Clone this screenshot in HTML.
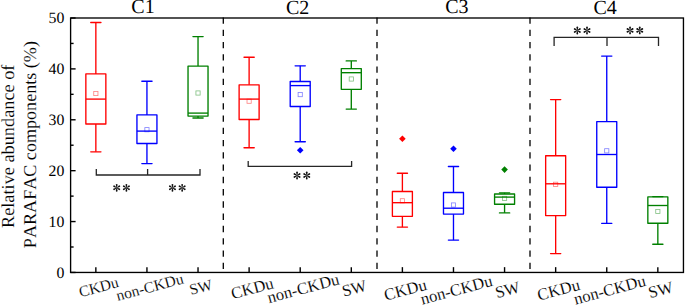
<!DOCTYPE html>
<html><head><meta charset="utf-8"><style>
html,body{margin:0;padding:0;background:#fff;}
svg{display:block;}
text{font-family:"Liberation Serif", serif;fill:#000;text-rendering:geometricPrecision;font-kerning:none;}
.r{stroke:#fff;stroke-width:0.12px;}
</style></head><body>
<svg width="685" height="305" viewBox="0 0 685 305">
<rect width="685" height="305" fill="#fff"/>
<line x1="95.85" y1="22.50" x2="95.85" y2="73.90" stroke="#ff0000" stroke-width="1.35"/>
<line x1="95.85" y1="124.00" x2="95.85" y2="151.80" stroke="#ff0000" stroke-width="1.35"/>
<line x1="90.75" y1="22.50" x2="100.95" y2="22.50" stroke="#ff0000" stroke-width="1.35" stroke-linecap="round"/>
<line x1="90.75" y1="151.80" x2="100.95" y2="151.80" stroke="#ff0000" stroke-width="1.35" stroke-linecap="round"/>
<rect x="85.85" y="73.90" width="20.00" height="50.10" fill="none" stroke="#ff0000" stroke-width="1.35" stroke-linejoin="round"/>
<line x1="85.85" y1="99.10" x2="105.85" y2="99.10" stroke="#ff0000" stroke-width="1.35"/>
<rect x="93.75" y="91.40" width="4.20" height="4.20" fill="none" stroke="#ff0000" stroke-width="0.8" opacity="0.5"/>
<line x1="146.94" y1="81.20" x2="146.94" y2="114.90" stroke="#0000ff" stroke-width="1.35"/>
<line x1="146.94" y1="143.50" x2="146.94" y2="163.60" stroke="#0000ff" stroke-width="1.35"/>
<line x1="141.84" y1="81.20" x2="152.04" y2="81.20" stroke="#0000ff" stroke-width="1.35" stroke-linecap="round"/>
<line x1="141.84" y1="163.60" x2="152.04" y2="163.60" stroke="#0000ff" stroke-width="1.35" stroke-linecap="round"/>
<rect x="136.94" y="114.90" width="20.00" height="28.60" fill="none" stroke="#0000ff" stroke-width="1.35" stroke-linejoin="round"/>
<line x1="136.94" y1="131.10" x2="156.94" y2="131.10" stroke="#0000ff" stroke-width="1.35"/>
<rect x="144.84" y="127.60" width="4.20" height="4.20" fill="none" stroke="#0000ff" stroke-width="0.8" opacity="0.5"/>
<line x1="198.03" y1="36.60" x2="198.03" y2="66.10" stroke="#008000" stroke-width="1.35"/>
<line x1="198.03" y1="116.10" x2="198.03" y2="118.00" stroke="#008000" stroke-width="1.35"/>
<line x1="192.93" y1="36.60" x2="203.13" y2="36.60" stroke="#008000" stroke-width="1.35" stroke-linecap="round"/>
<line x1="192.93" y1="118.00" x2="203.13" y2="118.00" stroke="#008000" stroke-width="1.35" stroke-linecap="round"/>
<rect x="188.03" y="66.10" width="20.00" height="50.00" fill="none" stroke="#008000" stroke-width="1.35" stroke-linejoin="round"/>
<line x1="188.03" y1="113.10" x2="208.03" y2="113.10" stroke="#008000" stroke-width="1.35"/>
<rect x="195.93" y="90.90" width="4.20" height="4.20" fill="none" stroke="#008000" stroke-width="0.8" opacity="0.5"/>
<line x1="249.12" y1="57.20" x2="249.12" y2="84.80" stroke="#ff0000" stroke-width="1.35"/>
<line x1="249.12" y1="119.50" x2="249.12" y2="147.70" stroke="#ff0000" stroke-width="1.35"/>
<line x1="244.02" y1="57.20" x2="254.22" y2="57.20" stroke="#ff0000" stroke-width="1.35" stroke-linecap="round"/>
<line x1="244.02" y1="147.70" x2="254.22" y2="147.70" stroke="#ff0000" stroke-width="1.35" stroke-linecap="round"/>
<rect x="239.12" y="84.80" width="20.00" height="34.70" fill="none" stroke="#ff0000" stroke-width="1.35" stroke-linejoin="round"/>
<line x1="239.12" y1="99.10" x2="259.12" y2="99.10" stroke="#ff0000" stroke-width="1.35"/>
<rect x="247.02" y="99.10" width="4.20" height="4.20" fill="none" stroke="#ff0000" stroke-width="0.8" opacity="0.5"/>
<line x1="300.21" y1="65.80" x2="300.21" y2="81.50" stroke="#0000ff" stroke-width="1.35"/>
<line x1="300.21" y1="106.50" x2="300.21" y2="141.70" stroke="#0000ff" stroke-width="1.35"/>
<line x1="295.11" y1="65.80" x2="305.31" y2="65.80" stroke="#0000ff" stroke-width="1.35" stroke-linecap="round"/>
<line x1="295.11" y1="141.70" x2="305.31" y2="141.70" stroke="#0000ff" stroke-width="1.35" stroke-linecap="round"/>
<rect x="290.21" y="81.50" width="20.00" height="25.00" fill="none" stroke="#0000ff" stroke-width="1.35" stroke-linejoin="round"/>
<line x1="290.21" y1="85.60" x2="310.21" y2="85.60" stroke="#0000ff" stroke-width="1.35"/>
<rect x="298.11" y="92.50" width="4.20" height="4.20" fill="none" stroke="#0000ff" stroke-width="0.8" opacity="0.5"/>
<path d="M300.21,146.90 L303.51,150.20 L300.21,153.50 L296.91,150.20 Z" fill="#0000ff"/>
<line x1="351.30" y1="60.90" x2="351.30" y2="68.60" stroke="#008000" stroke-width="1.35"/>
<line x1="351.30" y1="89.30" x2="351.30" y2="109.10" stroke="#008000" stroke-width="1.35"/>
<line x1="346.20" y1="60.90" x2="356.40" y2="60.90" stroke="#008000" stroke-width="1.35" stroke-linecap="round"/>
<line x1="346.20" y1="109.10" x2="356.40" y2="109.10" stroke="#008000" stroke-width="1.35" stroke-linecap="round"/>
<rect x="341.30" y="68.60" width="20.00" height="20.70" fill="none" stroke="#008000" stroke-width="1.35" stroke-linejoin="round"/>
<line x1="341.30" y1="72.70" x2="361.30" y2="72.70" stroke="#008000" stroke-width="1.35"/>
<rect x="349.20" y="76.90" width="4.20" height="4.20" fill="none" stroke="#008000" stroke-width="0.8" opacity="0.5"/>
<line x1="402.39" y1="173.20" x2="402.39" y2="191.50" stroke="#ff0000" stroke-width="1.35"/>
<line x1="402.39" y1="216.30" x2="402.39" y2="227.10" stroke="#ff0000" stroke-width="1.35"/>
<line x1="397.29" y1="173.20" x2="407.49" y2="173.20" stroke="#ff0000" stroke-width="1.35" stroke-linecap="round"/>
<line x1="397.29" y1="227.10" x2="407.49" y2="227.10" stroke="#ff0000" stroke-width="1.35" stroke-linecap="round"/>
<rect x="392.39" y="191.50" width="20.00" height="24.80" fill="none" stroke="#ff0000" stroke-width="1.35" stroke-linejoin="round"/>
<line x1="392.39" y1="202.70" x2="412.39" y2="202.70" stroke="#ff0000" stroke-width="1.35"/>
<rect x="400.29" y="198.70" width="4.20" height="4.20" fill="none" stroke="#ff0000" stroke-width="0.8" opacity="0.5"/>
<path d="M402.39,135.50 L405.69,138.80 L402.39,142.10 L399.09,138.80 Z" fill="#ff0000"/>
<line x1="453.48" y1="166.50" x2="453.48" y2="192.50" stroke="#0000ff" stroke-width="1.35"/>
<line x1="453.48" y1="214.10" x2="453.48" y2="240.10" stroke="#0000ff" stroke-width="1.35"/>
<line x1="448.38" y1="166.50" x2="458.58" y2="166.50" stroke="#0000ff" stroke-width="1.35" stroke-linecap="round"/>
<line x1="448.38" y1="240.10" x2="458.58" y2="240.10" stroke="#0000ff" stroke-width="1.35" stroke-linecap="round"/>
<rect x="443.48" y="192.50" width="20.00" height="21.60" fill="none" stroke="#0000ff" stroke-width="1.35" stroke-linejoin="round"/>
<line x1="443.48" y1="208.20" x2="463.48" y2="208.20" stroke="#0000ff" stroke-width="1.35"/>
<rect x="451.38" y="202.90" width="4.20" height="4.20" fill="none" stroke="#0000ff" stroke-width="0.8" opacity="0.5"/>
<path d="M453.48,145.50 L456.78,148.80 L453.48,152.10 L450.18,148.80 Z" fill="#0000ff"/>
<line x1="504.57" y1="192.80" x2="504.57" y2="194.00" stroke="#008000" stroke-width="1.35"/>
<line x1="504.57" y1="204.20" x2="504.57" y2="212.90" stroke="#008000" stroke-width="1.35"/>
<line x1="499.47" y1="192.80" x2="509.67" y2="192.80" stroke="#008000" stroke-width="1.35" stroke-linecap="round"/>
<line x1="499.47" y1="212.90" x2="509.67" y2="212.90" stroke="#008000" stroke-width="1.35" stroke-linecap="round"/>
<rect x="494.57" y="194.00" width="20.00" height="10.20" fill="none" stroke="#008000" stroke-width="1.35" stroke-linejoin="round"/>
<line x1="494.57" y1="197.10" x2="514.57" y2="197.10" stroke="#008000" stroke-width="1.35"/>
<rect x="502.47" y="196.30" width="4.20" height="4.20" fill="none" stroke="#008000" stroke-width="0.8" opacity="0.5"/>
<path d="M504.57,166.30 L507.87,169.60 L504.57,172.90 L501.27,169.60 Z" fill="#008000"/>
<line x1="555.66" y1="99.60" x2="555.66" y2="155.70" stroke="#ff0000" stroke-width="1.35"/>
<line x1="555.66" y1="215.60" x2="555.66" y2="253.60" stroke="#ff0000" stroke-width="1.35"/>
<line x1="550.56" y1="99.60" x2="560.76" y2="99.60" stroke="#ff0000" stroke-width="1.35" stroke-linecap="round"/>
<line x1="550.56" y1="253.60" x2="560.76" y2="253.60" stroke="#ff0000" stroke-width="1.35" stroke-linecap="round"/>
<rect x="545.66" y="155.70" width="20.00" height="59.90" fill="none" stroke="#ff0000" stroke-width="1.35" stroke-linejoin="round"/>
<line x1="545.66" y1="183.80" x2="565.66" y2="183.80" stroke="#ff0000" stroke-width="1.35"/>
<rect x="553.56" y="182.20" width="4.20" height="4.20" fill="none" stroke="#ff0000" stroke-width="0.8" opacity="0.5"/>
<line x1="606.75" y1="56.10" x2="606.75" y2="121.60" stroke="#0000ff" stroke-width="1.35"/>
<line x1="606.75" y1="187.30" x2="606.75" y2="223.30" stroke="#0000ff" stroke-width="1.35"/>
<line x1="601.65" y1="56.10" x2="611.85" y2="56.10" stroke="#0000ff" stroke-width="1.35" stroke-linecap="round"/>
<line x1="601.65" y1="223.30" x2="611.85" y2="223.30" stroke="#0000ff" stroke-width="1.35" stroke-linecap="round"/>
<rect x="596.75" y="121.60" width="20.00" height="65.70" fill="none" stroke="#0000ff" stroke-width="1.35" stroke-linejoin="round"/>
<line x1="596.75" y1="154.50" x2="616.75" y2="154.50" stroke="#0000ff" stroke-width="1.35"/>
<rect x="604.65" y="148.70" width="4.20" height="4.20" fill="none" stroke="#0000ff" stroke-width="0.8" opacity="0.5"/>
<line x1="657.84" y1="196.60" x2="657.84" y2="196.90" stroke="#008000" stroke-width="1.35"/>
<line x1="657.84" y1="223.30" x2="657.84" y2="244.20" stroke="#008000" stroke-width="1.35"/>
<line x1="652.74" y1="196.60" x2="662.94" y2="196.60" stroke="#008000" stroke-width="1.35" stroke-linecap="round"/>
<line x1="652.74" y1="244.20" x2="662.94" y2="244.20" stroke="#008000" stroke-width="1.35" stroke-linecap="round"/>
<rect x="647.84" y="196.90" width="20.00" height="26.40" fill="none" stroke="#008000" stroke-width="1.35" stroke-linejoin="round"/>
<line x1="647.84" y1="205.50" x2="667.84" y2="205.50" stroke="#008000" stroke-width="1.35"/>
<rect x="655.74" y="209.40" width="4.20" height="4.20" fill="none" stroke="#008000" stroke-width="0.8" opacity="0.5"/>
<path d="M96.30,169.10 L96.30,175.00 L200.00,175.00 L200.00,169.10 M147.60,175.00 L147.60,169.10" fill="none" stroke="#262626" stroke-width="1.3"/>
<path d="M248.2,161 L248.2,166.3 L351.6,166.3 L351.6,161" fill="none" stroke="#262626" stroke-width="1.3"/>
<path d="M554.10,46.00 L554.10,37.40 L658.50,37.40 L658.50,46.00 M607.00,37.40 L607.00,46.00" fill="none" stroke="#262626" stroke-width="1.3"/>
<rect x="70.60" y="18.00" width="612.85" height="254.45" fill="none" stroke="#000" stroke-width="1.35"/>
<line x1="70.60" y1="272.45" x2="75.60" y2="272.45" stroke="#000" stroke-width="1.4"/>
<line x1="70.60" y1="247.00" x2="73.60" y2="247.00" stroke="#000" stroke-width="1.4"/>
<line x1="70.60" y1="221.56" x2="75.60" y2="221.56" stroke="#000" stroke-width="1.4"/>
<line x1="70.60" y1="196.12" x2="73.60" y2="196.12" stroke="#000" stroke-width="1.4"/>
<line x1="70.60" y1="170.67" x2="75.60" y2="170.67" stroke="#000" stroke-width="1.4"/>
<line x1="70.60" y1="145.22" x2="73.60" y2="145.22" stroke="#000" stroke-width="1.4"/>
<line x1="70.60" y1="119.78" x2="75.60" y2="119.78" stroke="#000" stroke-width="1.4"/>
<line x1="70.60" y1="94.33" x2="73.60" y2="94.33" stroke="#000" stroke-width="1.4"/>
<line x1="70.60" y1="68.89" x2="75.60" y2="68.89" stroke="#000" stroke-width="1.4"/>
<line x1="70.60" y1="43.44" x2="73.60" y2="43.44" stroke="#000" stroke-width="1.4"/>
<line x1="70.60" y1="18.00" x2="75.60" y2="18.00" stroke="#000" stroke-width="1.4"/>
<line x1="95.85" y1="272.45" x2="95.85" y2="267.15" stroke="#000" stroke-width="1.4"/>
<line x1="146.94" y1="272.45" x2="146.94" y2="267.15" stroke="#000" stroke-width="1.4"/>
<line x1="198.03" y1="272.45" x2="198.03" y2="267.15" stroke="#000" stroke-width="1.4"/>
<line x1="249.12" y1="272.45" x2="249.12" y2="267.15" stroke="#000" stroke-width="1.4"/>
<line x1="300.21" y1="272.45" x2="300.21" y2="267.15" stroke="#000" stroke-width="1.4"/>
<line x1="351.30" y1="272.45" x2="351.30" y2="267.15" stroke="#000" stroke-width="1.4"/>
<line x1="402.39" y1="272.45" x2="402.39" y2="267.15" stroke="#000" stroke-width="1.4"/>
<line x1="453.48" y1="272.45" x2="453.48" y2="267.15" stroke="#000" stroke-width="1.4"/>
<line x1="504.57" y1="272.45" x2="504.57" y2="267.15" stroke="#000" stroke-width="1.4"/>
<line x1="555.66" y1="272.45" x2="555.66" y2="267.15" stroke="#000" stroke-width="1.4"/>
<line x1="606.75" y1="272.45" x2="606.75" y2="267.15" stroke="#000" stroke-width="1.4"/>
<line x1="657.84" y1="272.45" x2="657.84" y2="267.15" stroke="#000" stroke-width="1.4"/>
<line x1="223.30" y1="17.45" x2="223.30" y2="272.45" stroke="#000" stroke-width="1.3" stroke-dasharray="6.3,5.96"/>
<line x1="377.00" y1="17.45" x2="377.00" y2="272.45" stroke="#000" stroke-width="1.3" stroke-dasharray="6.3,5.96"/>
<line x1="530.00" y1="17.45" x2="530.00" y2="272.45" stroke="#000" stroke-width="1.3" stroke-dasharray="6.3,5.96"/>
<text x="64.40" y="277.55" font-size="15.8" text-anchor="end">0</text>
<text x="64.40" y="226.66" font-size="15.8" text-anchor="end">10</text>
<text x="64.40" y="175.77" font-size="15.8" text-anchor="end">20</text>
<text x="64.40" y="124.88" font-size="15.8" text-anchor="end">30</text>
<text x="64.40" y="73.99" font-size="15.8" text-anchor="end">40</text>
<text x="64.40" y="23.10" font-size="15.8" text-anchor="end">50</text>
<text x="143.00" y="13.10" font-size="20" text-anchor="middle">C1</text>
<text x="297.70" y="13.60" font-size="20" text-anchor="middle">C2</text>
<text x="456.90" y="13.10" font-size="20" text-anchor="middle">C3</text>
<text x="605.20" y="13.60" font-size="20" text-anchor="middle">C4</text>
<path d="M-0.20,0 L-0.90,-3.00 A0.90,0.90 0 0 1 0.90,-3.00 L0.20,0 Z" transform="translate(116.70,187.80) rotate(0)" fill="#111"/><path d="M-0.20,0 L-0.90,-3.00 A0.90,0.90 0 0 1 0.90,-3.00 L0.20,0 Z" transform="translate(116.70,187.80) rotate(60)" fill="#111"/><path d="M-0.20,0 L-0.90,-3.00 A0.90,0.90 0 0 1 0.90,-3.00 L0.20,0 Z" transform="translate(116.70,187.80) rotate(120)" fill="#111"/><path d="M-0.20,0 L-0.90,-3.00 A0.90,0.90 0 0 1 0.90,-3.00 L0.20,0 Z" transform="translate(116.70,187.80) rotate(180)" fill="#111"/><path d="M-0.20,0 L-0.90,-3.00 A0.90,0.90 0 0 1 0.90,-3.00 L0.20,0 Z" transform="translate(116.70,187.80) rotate(-60)" fill="#111"/><path d="M-0.20,0 L-0.90,-3.00 A0.90,0.90 0 0 1 0.90,-3.00 L0.20,0 Z" transform="translate(116.70,187.80) rotate(-120)" fill="#111"/><circle cx="116.70" cy="187.80" r="0.7" fill="#555"/>
<path d="M-0.20,0 L-0.90,-3.00 A0.90,0.90 0 0 1 0.90,-3.00 L0.20,0 Z" transform="translate(126.40,187.80) rotate(0)" fill="#111"/><path d="M-0.20,0 L-0.90,-3.00 A0.90,0.90 0 0 1 0.90,-3.00 L0.20,0 Z" transform="translate(126.40,187.80) rotate(60)" fill="#111"/><path d="M-0.20,0 L-0.90,-3.00 A0.90,0.90 0 0 1 0.90,-3.00 L0.20,0 Z" transform="translate(126.40,187.80) rotate(120)" fill="#111"/><path d="M-0.20,0 L-0.90,-3.00 A0.90,0.90 0 0 1 0.90,-3.00 L0.20,0 Z" transform="translate(126.40,187.80) rotate(180)" fill="#111"/><path d="M-0.20,0 L-0.90,-3.00 A0.90,0.90 0 0 1 0.90,-3.00 L0.20,0 Z" transform="translate(126.40,187.80) rotate(-60)" fill="#111"/><path d="M-0.20,0 L-0.90,-3.00 A0.90,0.90 0 0 1 0.90,-3.00 L0.20,0 Z" transform="translate(126.40,187.80) rotate(-120)" fill="#111"/><circle cx="126.40" cy="187.80" r="0.7" fill="#555"/>
<path d="M-0.20,0 L-0.90,-3.00 A0.90,0.90 0 0 1 0.90,-3.00 L0.20,0 Z" transform="translate(172.45,187.80) rotate(0)" fill="#111"/><path d="M-0.20,0 L-0.90,-3.00 A0.90,0.90 0 0 1 0.90,-3.00 L0.20,0 Z" transform="translate(172.45,187.80) rotate(60)" fill="#111"/><path d="M-0.20,0 L-0.90,-3.00 A0.90,0.90 0 0 1 0.90,-3.00 L0.20,0 Z" transform="translate(172.45,187.80) rotate(120)" fill="#111"/><path d="M-0.20,0 L-0.90,-3.00 A0.90,0.90 0 0 1 0.90,-3.00 L0.20,0 Z" transform="translate(172.45,187.80) rotate(180)" fill="#111"/><path d="M-0.20,0 L-0.90,-3.00 A0.90,0.90 0 0 1 0.90,-3.00 L0.20,0 Z" transform="translate(172.45,187.80) rotate(-60)" fill="#111"/><path d="M-0.20,0 L-0.90,-3.00 A0.90,0.90 0 0 1 0.90,-3.00 L0.20,0 Z" transform="translate(172.45,187.80) rotate(-120)" fill="#111"/><circle cx="172.45" cy="187.80" r="0.7" fill="#555"/>
<path d="M-0.20,0 L-0.90,-3.00 A0.90,0.90 0 0 1 0.90,-3.00 L0.20,0 Z" transform="translate(182.15,187.80) rotate(0)" fill="#111"/><path d="M-0.20,0 L-0.90,-3.00 A0.90,0.90 0 0 1 0.90,-3.00 L0.20,0 Z" transform="translate(182.15,187.80) rotate(60)" fill="#111"/><path d="M-0.20,0 L-0.90,-3.00 A0.90,0.90 0 0 1 0.90,-3.00 L0.20,0 Z" transform="translate(182.15,187.80) rotate(120)" fill="#111"/><path d="M-0.20,0 L-0.90,-3.00 A0.90,0.90 0 0 1 0.90,-3.00 L0.20,0 Z" transform="translate(182.15,187.80) rotate(180)" fill="#111"/><path d="M-0.20,0 L-0.90,-3.00 A0.90,0.90 0 0 1 0.90,-3.00 L0.20,0 Z" transform="translate(182.15,187.80) rotate(-60)" fill="#111"/><path d="M-0.20,0 L-0.90,-3.00 A0.90,0.90 0 0 1 0.90,-3.00 L0.20,0 Z" transform="translate(182.15,187.80) rotate(-120)" fill="#111"/><circle cx="182.15" cy="187.80" r="0.7" fill="#555"/>
<path d="M-0.20,0 L-0.90,-3.00 A0.90,0.90 0 0 1 0.90,-3.00 L0.20,0 Z" transform="translate(297.05,175.50) rotate(0)" fill="#111"/><path d="M-0.20,0 L-0.90,-3.00 A0.90,0.90 0 0 1 0.90,-3.00 L0.20,0 Z" transform="translate(297.05,175.50) rotate(60)" fill="#111"/><path d="M-0.20,0 L-0.90,-3.00 A0.90,0.90 0 0 1 0.90,-3.00 L0.20,0 Z" transform="translate(297.05,175.50) rotate(120)" fill="#111"/><path d="M-0.20,0 L-0.90,-3.00 A0.90,0.90 0 0 1 0.90,-3.00 L0.20,0 Z" transform="translate(297.05,175.50) rotate(180)" fill="#111"/><path d="M-0.20,0 L-0.90,-3.00 A0.90,0.90 0 0 1 0.90,-3.00 L0.20,0 Z" transform="translate(297.05,175.50) rotate(-60)" fill="#111"/><path d="M-0.20,0 L-0.90,-3.00 A0.90,0.90 0 0 1 0.90,-3.00 L0.20,0 Z" transform="translate(297.05,175.50) rotate(-120)" fill="#111"/><circle cx="297.05" cy="175.50" r="0.7" fill="#555"/>
<path d="M-0.20,0 L-0.90,-3.00 A0.90,0.90 0 0 1 0.90,-3.00 L0.20,0 Z" transform="translate(306.75,175.50) rotate(0)" fill="#111"/><path d="M-0.20,0 L-0.90,-3.00 A0.90,0.90 0 0 1 0.90,-3.00 L0.20,0 Z" transform="translate(306.75,175.50) rotate(60)" fill="#111"/><path d="M-0.20,0 L-0.90,-3.00 A0.90,0.90 0 0 1 0.90,-3.00 L0.20,0 Z" transform="translate(306.75,175.50) rotate(120)" fill="#111"/><path d="M-0.20,0 L-0.90,-3.00 A0.90,0.90 0 0 1 0.90,-3.00 L0.20,0 Z" transform="translate(306.75,175.50) rotate(180)" fill="#111"/><path d="M-0.20,0 L-0.90,-3.00 A0.90,0.90 0 0 1 0.90,-3.00 L0.20,0 Z" transform="translate(306.75,175.50) rotate(-60)" fill="#111"/><path d="M-0.20,0 L-0.90,-3.00 A0.90,0.90 0 0 1 0.90,-3.00 L0.20,0 Z" transform="translate(306.75,175.50) rotate(-120)" fill="#111"/><circle cx="306.75" cy="175.50" r="0.7" fill="#555"/>
<path d="M-0.20,0 L-0.90,-3.00 A0.90,0.90 0 0 1 0.90,-3.00 L0.20,0 Z" transform="translate(577.30,30.50) rotate(0)" fill="#111"/><path d="M-0.20,0 L-0.90,-3.00 A0.90,0.90 0 0 1 0.90,-3.00 L0.20,0 Z" transform="translate(577.30,30.50) rotate(60)" fill="#111"/><path d="M-0.20,0 L-0.90,-3.00 A0.90,0.90 0 0 1 0.90,-3.00 L0.20,0 Z" transform="translate(577.30,30.50) rotate(120)" fill="#111"/><path d="M-0.20,0 L-0.90,-3.00 A0.90,0.90 0 0 1 0.90,-3.00 L0.20,0 Z" transform="translate(577.30,30.50) rotate(180)" fill="#111"/><path d="M-0.20,0 L-0.90,-3.00 A0.90,0.90 0 0 1 0.90,-3.00 L0.20,0 Z" transform="translate(577.30,30.50) rotate(-60)" fill="#111"/><path d="M-0.20,0 L-0.90,-3.00 A0.90,0.90 0 0 1 0.90,-3.00 L0.20,0 Z" transform="translate(577.30,30.50) rotate(-120)" fill="#111"/><circle cx="577.30" cy="30.50" r="0.7" fill="#555"/>
<path d="M-0.20,0 L-0.90,-3.00 A0.90,0.90 0 0 1 0.90,-3.00 L0.20,0 Z" transform="translate(587.00,30.50) rotate(0)" fill="#111"/><path d="M-0.20,0 L-0.90,-3.00 A0.90,0.90 0 0 1 0.90,-3.00 L0.20,0 Z" transform="translate(587.00,30.50) rotate(60)" fill="#111"/><path d="M-0.20,0 L-0.90,-3.00 A0.90,0.90 0 0 1 0.90,-3.00 L0.20,0 Z" transform="translate(587.00,30.50) rotate(120)" fill="#111"/><path d="M-0.20,0 L-0.90,-3.00 A0.90,0.90 0 0 1 0.90,-3.00 L0.20,0 Z" transform="translate(587.00,30.50) rotate(180)" fill="#111"/><path d="M-0.20,0 L-0.90,-3.00 A0.90,0.90 0 0 1 0.90,-3.00 L0.20,0 Z" transform="translate(587.00,30.50) rotate(-60)" fill="#111"/><path d="M-0.20,0 L-0.90,-3.00 A0.90,0.90 0 0 1 0.90,-3.00 L0.20,0 Z" transform="translate(587.00,30.50) rotate(-120)" fill="#111"/><circle cx="587.00" cy="30.50" r="0.7" fill="#555"/>
<path d="M-0.20,0 L-0.90,-3.00 A0.90,0.90 0 0 1 0.90,-3.00 L0.20,0 Z" transform="translate(630.05,30.40) rotate(0)" fill="#111"/><path d="M-0.20,0 L-0.90,-3.00 A0.90,0.90 0 0 1 0.90,-3.00 L0.20,0 Z" transform="translate(630.05,30.40) rotate(60)" fill="#111"/><path d="M-0.20,0 L-0.90,-3.00 A0.90,0.90 0 0 1 0.90,-3.00 L0.20,0 Z" transform="translate(630.05,30.40) rotate(120)" fill="#111"/><path d="M-0.20,0 L-0.90,-3.00 A0.90,0.90 0 0 1 0.90,-3.00 L0.20,0 Z" transform="translate(630.05,30.40) rotate(180)" fill="#111"/><path d="M-0.20,0 L-0.90,-3.00 A0.90,0.90 0 0 1 0.90,-3.00 L0.20,0 Z" transform="translate(630.05,30.40) rotate(-60)" fill="#111"/><path d="M-0.20,0 L-0.90,-3.00 A0.90,0.90 0 0 1 0.90,-3.00 L0.20,0 Z" transform="translate(630.05,30.40) rotate(-120)" fill="#111"/><circle cx="630.05" cy="30.40" r="0.7" fill="#555"/>
<path d="M-0.20,0 L-0.90,-3.00 A0.90,0.90 0 0 1 0.90,-3.00 L0.20,0 Z" transform="translate(639.75,30.40) rotate(0)" fill="#111"/><path d="M-0.20,0 L-0.90,-3.00 A0.90,0.90 0 0 1 0.90,-3.00 L0.20,0 Z" transform="translate(639.75,30.40) rotate(60)" fill="#111"/><path d="M-0.20,0 L-0.90,-3.00 A0.90,0.90 0 0 1 0.90,-3.00 L0.20,0 Z" transform="translate(639.75,30.40) rotate(120)" fill="#111"/><path d="M-0.20,0 L-0.90,-3.00 A0.90,0.90 0 0 1 0.90,-3.00 L0.20,0 Z" transform="translate(639.75,30.40) rotate(180)" fill="#111"/><path d="M-0.20,0 L-0.90,-3.00 A0.90,0.90 0 0 1 0.90,-3.00 L0.20,0 Z" transform="translate(639.75,30.40) rotate(-60)" fill="#111"/><path d="M-0.20,0 L-0.90,-3.00 A0.90,0.90 0 0 1 0.90,-3.00 L0.20,0 Z" transform="translate(639.75,30.40) rotate(-120)" fill="#111"/><circle cx="639.75" cy="30.40" r="0.7" fill="#555"/>
<text x="0.00" y="0.00" font-size="15.5" text-anchor="middle" class="r" transform="translate(100.05,292.10) rotate(-15)">CKDu</text>
<text x="0.00" y="0.00" font-size="15.5" text-anchor="middle" class="r" transform="translate(151.12,292.10) rotate(-15)">non-CKDu</text>
<text x="0.00" y="0.00" font-size="15.5" text-anchor="middle" class="r" transform="translate(202.19,292.10) rotate(-15)">SW</text>
<text x="0.00" y="0.00" font-size="16.6" text-anchor="middle" class="r" transform="translate(253.56,293.60) rotate(-15)">CKDu</text>
<text x="0.00" y="0.00" font-size="16.6" text-anchor="middle" class="r" transform="translate(304.63,293.60) rotate(-15)">non-CKDu</text>
<text x="0.00" y="0.00" font-size="16.6" text-anchor="middle" class="r" transform="translate(355.70,293.60) rotate(-15)">SW</text>
<text x="0.00" y="0.00" font-size="16.6" text-anchor="middle" class="r" transform="translate(406.77,295.10) rotate(-15)">CKDu</text>
<text x="0.00" y="0.00" font-size="16.6" text-anchor="middle" class="r" transform="translate(457.84,295.10) rotate(-15)">non-CKDu</text>
<text x="0.00" y="0.00" font-size="16.6" text-anchor="middle" class="r" transform="translate(508.91,295.10) rotate(-15)">SW</text>
<text x="0.00" y="0.00" font-size="16.6" text-anchor="middle" class="r" transform="translate(559.98,295.10) rotate(-15)">CKDu</text>
<text x="0.00" y="0.00" font-size="16.6" text-anchor="middle" class="r" transform="translate(611.05,295.10) rotate(-15)">non-CKDu</text>
<text x="0.00" y="0.00" font-size="16.6" text-anchor="middle" class="r" transform="translate(662.12,295.10) rotate(-15)">SW</text>
<text x="0.00" y="0.00" font-size="18.3" text-anchor="middle" class="r" transform="translate(14.0,146.3) rotate(-90)">Relative abundance of</text>
<text x="0.00" y="0.00" font-size="18.1" text-anchor="middle" class="r" transform="translate(36.1,144.6) rotate(-90)">PARAFAC components (%)</text>
</svg>
</body></html>
